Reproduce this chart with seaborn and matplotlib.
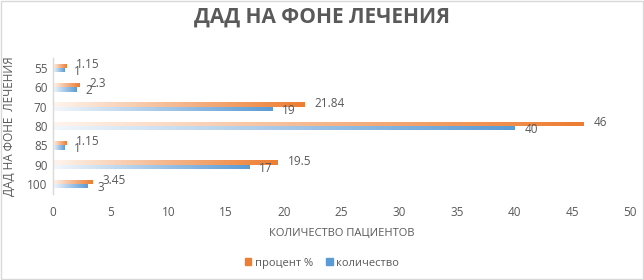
import numpy as np
import pandas as pd
import matplotlib
matplotlib.use("Agg")
import matplotlib.pyplot as plt
import seaborn as sns
from matplotlib.colors import LinearSegmentedColormap, to_rgb
from matplotlib.patches import Rectangle

# данные
categories = ["55", "60", "70", "80", "85", "90", "100"]
kolichestvo = [1, 2, 19, 40, 1, 17, 3]
procent = [1.15, 2.3, 21.84, 46, 1.15, 19.5, 3.45]
series_names = ["процент %", "количество"]

df = pd.DataFrame({
    "ДАД": categories * 2,
    "value": procent + kolichestvo,
    "series": [series_names[0]] * len(categories) + [series_names[1]] * len(categories),
})

orange = "#ED7D31"
blue = "#5B9BD5"
grey = "#595959"

sns.set_style("white")
plt.rcParams["font.family"] = ["Open Sans", "DejaVu Sans"]

fig = plt.figure(figsize=(6.44, 2.8), dpi=100)
ax = fig.add_axes([0.0823, 0.308, 0.978 - 0.0823, 0.792 - 0.308])

sns.barplot(data=df, y="ДАД", x="value", hue="series", hue_order=series_names,
            order=categories, palette=[orange, blue], width=0.45, orient="h",
            ax=ax, legend=False, saturation=1)

# градиентная заливка как в excel
def fade(c):
    r = np.array(to_rgb(c))
    light = 1 - (1 - r) * 0.08
    return LinearSegmentedColormap.from_list("g", [light, 1 - (1 - r) * 0.55, r])

grad = np.linspace(0, 1, 256).reshape(1, -1)
for cont, col, dy in zip(ax.containers, [orange, blue], [1, -1]):
    cmap = fade(col)
    for p in cont.patches:
        x0, y0 = p.get_x(), p.get_y()
        w, h = p.get_width(), p.get_height()
        p.set_facecolor("none")
        p.set_edgecolor("none")
        im = ax.imshow(grad, cmap=cmap, aspect="auto", extent=[x0, x0 + w, y0 + h, y0],
                       interpolation="bilinear", zorder=2)
        im.set_clip_path(p)
        # подпись значения
        ax.annotate(f"{w:g}", (x0 + w, y0 + h / 2), xytext=(7, dy), textcoords="offset points",
                    va="center", ha="left", fontsize=8.5, color=grey)

ax.set_xlim(0, 50)
ax.set_ylim(6.5, -0.5)
ax.set_xticks(range(0, 51, 5))
ax.tick_params(axis="both", length=0, labelsize=8.5, labelcolor=grey, pad=4)
ax.tick_params(axis="x", pad=9)
for s in ["top", "right", "bottom"]:
    ax.spines[s].set_visible(False)
ax.spines["left"].set_color("#d9d9d9")
ax.spines["left"].set_linewidth(1)
ax.grid(False)

ax.set_xlabel("КОЛИЧЕСТВО ПАЦИЕНТОВ", fontsize=8, color=grey, labelpad=6)
ax.set_ylabel("ДАД НА ФОНЕ  ЛЕЧЕНИЯ", fontsize=8.5, color=grey, labelpad=8)

fig.suptitle("ДАД НА ФОНЕ ЛЕЧЕНИЯ", x=0.5, y=0.975, fontsize=15, fontweight="bold",
             color=grey, va="top")

# легенда
handles = [Rectangle((0, 0), 1, 1, color=orange), Rectangle((0, 0), 1, 1, color=blue)]
fig.legend(handles, series_names, loc="center", bbox_to_anchor=(0.5, 0.06), ncol=2,
           frameon=False, fontsize=8, labelcolor=grey, handlelength=0.6,
           handleheight=0.6, handletextpad=0.3, columnspacing=1.2)

# рамка диаграммы
fig.patches.append(Rectangle((0.001, 0.002), 0.997, 0.995, transform=fig.transFigure,
                             fill=False, edgecolor="#d9d9d9", linewidth=1))

fig.savefig("out.png", dpi=100)
